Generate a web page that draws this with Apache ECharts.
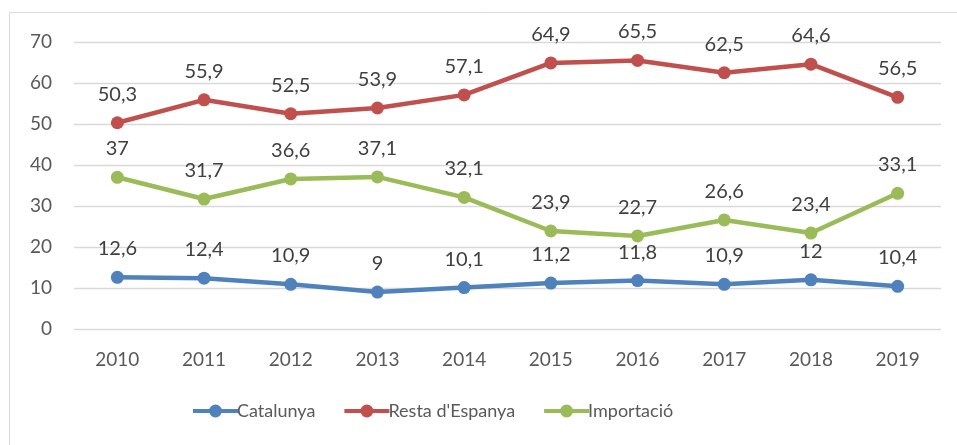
<!DOCTYPE html>
<html>
<head>
<meta charset="utf-8">
<script src="https://cdn.jsdelivr.net/npm/echarts@6/dist/echarts.min.js"></script>
<style>
  html, body { margin: 0; padding: 0; background: #fff; }
  #chart { width: 957px; height: 445px; }
</style>
</head>
<body>
<div id="chart"></div>
<script>
  // anys
  var years = ['2010', '2011', '2012', '2013', '2014', '2015', '2016', '2017', '2018', '2019']
  var catalunya = [12.6, 12.4, 10.9, 9, 10.1, 11.2, 11.8, 10.9, 12, 10.4]
  var restaEspanya = [50.3, 55.9, 52.5, 53.9, 57.1, 64.9, 65.5, 62.5, 64.6, 56.5]
  var importacio = [37, 31.7, 36.6, 37.1, 32.1, 23.9, 22.7, 26.6, 23.4, 33.1]

  var font = 'Lato, "Noto Sans", sans-serif'
  // icona llegenda: línia gruixuda amb punt al mig
  var legendIcon = 'path://M0,4.5 L45,4.5 L45,8.5 L0,8.5 Z M16,6.5 A6.5,6.5 0 1,1 29,6.5 A6.5,6.5 0 1,1 16,6.5 Z'

  function serie(name, color, data) {
    return {
      name: name,
      type: 'line',
      data: data,
      symbol: 'circle',
      symbolSize: 13,
      itemStyle: { color: color },
      lineStyle: { color: color, width: 4.5 },
      label: {
        show: true,
        position: 'top',
        distance: 12,
        color: '#404040',
        fontSize: 20,
        fontFamily: font,
        formatter: function (p) { return String(p.value).replace('.', ',') }
      },
      animation: false
    }
  }

  var chart = echarts.init(document.getElementById('chart'))
  chart.setOption({
    backgroundColor: '#fff',
    graphic: [{
      type: 'rect',
      shape: { x: 9.5, y: 12.5, width: 960, height: 440 },
      style: { fill: 'none', stroke: '#d9d9d9', lineWidth: 1 },
      silent: true
    }],
    grid: { left: 74, right: 16, top: 42, bottom: 116 },
    legend: {
      bottom: 20,
      left: 188,
      itemWidth: 45,
      itemHeight: 13,
      itemGap: 29,
      icon: legendIcon,
      textStyle: { color: '#595959', fontSize: 18, fontFamily: font, padding: [0, 0, 0, -6] },
      data: ['Catalunya', "Resta d'Espanya", 'Importació']
    },
    xAxis: {
      type: 'category',
      data: years,
      boundaryGap: true,
      axisLine: { show: false },
      axisTick: { show: false },
      axisLabel: { color: '#595959', fontSize: 19, fontFamily: font, margin: 21 }
    },
    yAxis: {
      type: 'value',
      min: 0,
      max: 70,
      interval: 10,
      axisLine: { show: false },
      axisTick: { show: false },
      axisLabel: { color: '#595959', fontSize: 19, fontFamily: font, margin: 22 },
      splitLine: { lineStyle: { color: '#d9d9d9', width: 1.3 } }
    },
    series: [
      serie('Catalunya', '#4f81bd', catalunya),
      serie("Resta d'Espanya", '#c0504d', restaEspanya),
      serie('Importació', '#9bbb59', importacio)
    ]
  })
</script>
</body>
</html>
